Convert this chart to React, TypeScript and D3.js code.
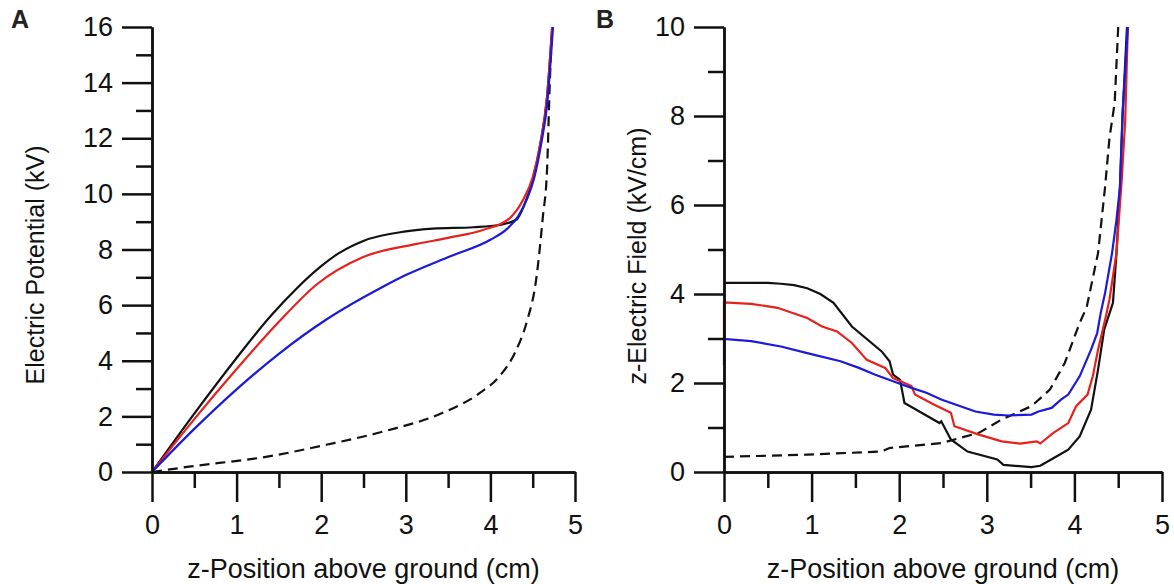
import React, { useEffect, useRef } from 'react';
import * as d3 from 'd3';

// panel A: electric potential (kV) vs z (cm)
const potBlack: [number, number][] = [
  [0, 0], [0.5, 2.1], [1.0, 4.1], [1.4, 5.6], [1.71, 6.6], [2.0, 7.4], [2.2, 7.85],
  [2.49, 8.3], [3.0, 8.65], [3.32, 8.75], [3.8, 8.8], [4.1, 8.88], [4.31, 9.08],
  [4.4, 9.6], [4.5, 10.5], [4.59, 11.8], [4.67, 13.5], [4.73, 16],
];
const potRed: [number, number][] = [
  [0, 0], [0.5, 1.9], [1.0, 3.7], [1.5, 5.4], [1.95, 6.75], [2.49, 7.72], [3.13, 8.2],
  [3.5, 8.42], [3.91, 8.7], [4.23, 9.13], [4.38, 9.75], [4.5, 10.6], [4.59, 11.8],
  [4.67, 13.5], [4.73, 16],
];
const potBlue: [number, number][] = [
  [0, 0], [0.5, 1.55], [1.01, 3.0], [1.5, 4.25], [2.07, 5.5], [2.73, 6.66], [3.0, 7.08],
  [3.52, 7.75], [4.0, 8.35], [4.2, 8.75], [4.33, 9.2], [4.43, 9.8], [4.52, 10.6],
  [4.6, 11.8], [4.67, 13.2], [4.74, 16],
];
const potDashed: [number, number][] = [
  [0, 0], [0.46, 0.2], [1.38, 0.56], [2.06, 0.98], [2.74, 1.46], [3.43, 2.12], [3.88, 2.85],
  [4.11, 3.45], [4.29, 4.29], [4.43, 5.4], [4.54, 6.9], [4.62, 9.17], [4.67, 10.9],
  [4.7, 13.8], [4.73, 16],
];

// panel B: z electric field (kV/cm) vs z (cm)
const fieldBlack: [number, number][] = [
  [0, 4.25], [0.5, 4.25], [0.65, 4.23], [0.8, 4.2], [0.95, 4.13], [1.1, 4.0], [1.25, 3.8],
  [1.46, 3.27], [1.8, 2.71], [1.89, 2.49],
  [1.93, 2.19], [2.01, 2.07], [2.06, 1.55], [2.23, 1.36], [2.46, 1.1], [2.48, 1.14],
  [2.59, 0.73], [2.78, 0.46], [3.12, 0.28], [3.19, 0.16], [3.51, 0.11], [3.61, 0.14],
  [3.76, 0.31], [3.93, 0.5], [4.06, 0.8], [4.19, 1.4], [4.27, 2.3], [4.34, 3.2],
  [4.44, 3.8], [4.48, 4.9], [4.52, 6.4], [4.55, 8.0], [4.6, 10],
];
const fieldRed: [number, number][] = [
  [0, 3.0], [0, 3.81], [0.31, 3.78], [0.61, 3.69], [0.95, 3.46], [1.12, 3.27], [1.29, 3.16],
  [1.46, 2.9], [1.63, 2.52], [1.84, 2.34], [1.93, 2.11], [2.14, 1.93], [2.18, 1.74],
  [2.4, 1.51], [2.59, 1.33], [2.63, 1.03], [2.91, 0.84], [3.17, 0.69], [3.38, 0.64],
  [3.57, 0.69], [3.61, 0.64], [3.76, 0.88], [3.93, 1.1], [4.02, 1.48], [4.15, 1.74],
  [4.21, 2.15], [4.27, 2.75], [4.36, 3.5], [4.4, 3.87], [4.48, 4.92], [4.54, 6.56],
  [4.58, 7.9], [4.61, 10],
];
const fieldBlue: [number, number][] = [
  [0, 2.4], [0, 2.99], [0.31, 2.94], [0.65, 2.82], [0.95, 2.67], [1.33, 2.49], [1.54, 2.34],
  [1.72, 2.19], [1.93, 2.04], [2.14, 1.89], [2.31, 1.78], [2.48, 1.63], [2.65, 1.51],
  [2.87, 1.36], [3.08, 1.29], [3.25, 1.27], [3.51, 1.29], [3.59, 1.36], [3.74, 1.44],
  [3.85, 1.63], [3.93, 1.74], [4.06, 2.15], [4.19, 2.75], [4.26, 3.12], [4.3, 3.57],
  [4.35, 4.02], [4.43, 4.92], [4.48, 5.66], [4.52, 6.4], [4.55, 8.07], [4.61, 10],
];
const fieldDashed: [number, number][] = [
  [0, 0.34], [0.95, 0.39], [1.8, 0.46], [1.89, 0.54], [2.48, 0.65], [2.91, 0.88],
  [3.17, 1.18], [3.51, 1.48], [3.72, 1.85], [3.89, 2.45], [4.06, 3.35], [4.14, 3.7],
  [4.27, 4.92], [4.35, 6.4], [4.4, 7.5], [4.46, 8.3], [4.5, 10],
];

const xTicks = [0, 1, 2, 3, 4, 5];
const xMinor = [0.5, 1.5, 2.5, 3.5, 4.5];
const potTicks = [0, 2, 4, 6, 8, 10, 12, 14, 16];
const potMinor = [1, 3, 5, 7, 9, 11, 13, 15];
const fieldTicks = [0, 2, 4, 6, 8, 10];
const fieldMinor = [1, 3, 5, 7, 9];

const RED = '#e8201b';
const BLUE = '#1a1ad8';
const FONT = '"Liberation Sans", Arial, sans-serif';

const App = () => {
  const ref = useRef<SVGSVGElement>(null);

  useEffect(() => {
    const svg = d3.select(ref.current);
    svg.selectAll('*').remove();

    const top = 27;
    const bottom = 472;

    const panel = (
      left: number,
      right: number,
      yMax: number,
      major: number[],
      minor: number[],
      series: { data: [number, number][]; color: string; dash?: string }[],
      curve: d3.CurveFactory,
      yTitle: string,
      yTitleX: number,
      yTitleY: number,
      letter: string,
      letterX: number,
    ) => {
      const x = d3.scaleLinear().domain([0, 5]).range([left, right]);
      const y = d3.scaleLinear().domain([0, yMax]).range([bottom, top]);
      const g = svg.append('g');

      const line = d3
        .line<[number, number]>()
        .x(d => x(d[0]))
        .y(d => y(d[1]))
        .curve(curve);

      series.forEach(s => {
        g.append('path')
          .datum(s.data)
          .attr('d', line)
          .attr('fill', 'none')
          .attr('stroke', s.color)
          .attr('stroke-width', 2.2)
          .attr('stroke-dasharray', s.dash || null);
      });

      const styleAxis = (sel: d3.Selection<SVGGElement, unknown, null, undefined>) => {
        sel.selectAll('line').attr('stroke', '#111').attr('stroke-width', 2.5);
        sel.select('.domain').attr('stroke', '#111').attr('stroke-width', 2.5);
        sel.selectAll('text').attr('font-family', FONT).attr('font-size', 27).attr('fill', '#111');
      };

      g.append('g')
        .attr('transform', `translate(0,${bottom})`)
        .call(d3.axisBottom(x).tickValues(xMinor).tickSize(16).tickFormat(() => '').tickSizeOuter(0))
        .call(styleAxis);
      g.append('g')
        .attr('transform', `translate(0,${bottom})`)
        .call(d3.axisBottom(x).tickValues(xTicks).tickSize(30).tickPadding(13).tickFormat(d3.format('d')).tickSizeOuter(0))
        .call(styleAxis);

      g.append('g')
        .attr('transform', `translate(${left},0)`)
        .call(d3.axisLeft(y).tickValues(minor).tickSize(16).tickFormat(() => '').tickSizeOuter(0))
        .call(styleAxis);
      g.append('g')
        .attr('transform', `translate(${left},0)`)
        .call(d3.axisLeft(y).tickValues(major).tickSize(30).tickPadding(9).tickFormat(d3.format('d')).tickSizeOuter(0))
        .call(styleAxis);

      g.append('text')
        .attr('x', (left + right) / 2)
        .attr('y', 578)
        .attr('text-anchor', 'middle')
        .attr('font-family', FONT)
        .attr('font-size', 27)
        .attr('fill', '#111')
        .text('z-Position above ground (cm)');

      g.append('text')
        .attr('transform', `translate(${yTitleX},${yTitleY}) rotate(-90)`)
        .attr('text-anchor', 'middle')
        .attr('font-family', FONT)
        .attr('font-size', 25)
        .attr('fill', '#111')
        .text(yTitle);

      g.append('text')
        .attr('x', letterX)
        .attr('y', 28)
        .attr('font-family', FONT)
        .attr('font-weight', 'bold')
        .attr('font-size', 25)
        .attr('fill', '#222')
        .text(letter);
    };

    panel(
      152, 575, 16, potTicks, potMinor,
      [
        { data: potDashed, color: '#111', dash: '10,6' },
        { data: potBlack, color: '#111' },
        { data: potRed, color: RED },
        { data: potBlue, color: BLUE },
      ],
      d3.curveMonotoneX,
      'Electric Potential (kV)', 44, 265, 'A', 11,
    );

    panel(
      724, 1162, 10, fieldTicks, fieldMinor,
      [
        { data: fieldDashed, color: '#111', dash: '10,6' },
        { data: fieldBlack, color: '#111' },
        { data: fieldRed, color: RED },
        { data: fieldBlue, color: BLUE },
      ],
      d3.curveLinear,
      'z-Electric Field (kV/cm)', 646, 256, 'B', 596,
    );

    return () => {
      svg.selectAll('*').remove();
    };
  }, []);

  return (
    <svg
      ref={ref}
      width={1174}
      height={584}
      style={{ position: 'absolute', left: 0, top: 0, background: '#fff' }}
    />
  );
};

export default App;
